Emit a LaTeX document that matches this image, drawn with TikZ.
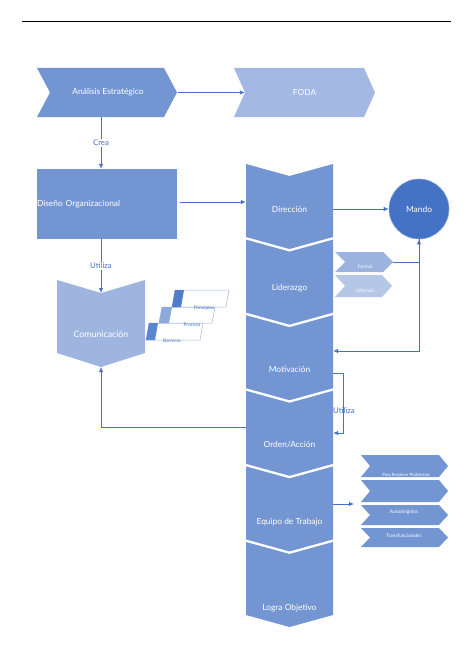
\documentclass[tikz,border=0pt]{standalone}
\usepackage{fontspec}
\setmainfont{Lato}
\usetikzlibrary{arrows.meta,calc}
\definecolor{colc}{HTML}{7396D3}
\definecolor{fodac}{HTML}{A3B8E3}
\definecolor{comc}{HTML}{A0B4E0}
\definecolor{mandoc}{HTML}{4472C4}
\definecolor{mandoedge}{HTML}{8FAADC}
\definecolor{arrc}{HTML}{4472C4}
\definecolor{formc}{HTML}{9DB3DF}
\definecolor{informc}{HTML}{B4C7E7}
\definecolor{parc}{HTML}{9DB3DF}
\definecolor{darka}{HTML}{5A85D0}
\definecolor{darkb}{HTML}{8EAADB}
\definecolor{darkc}{HTML}{4F7DCC}
\newcommand\mychevR[6]{\fill[#1] (#2,#3) -- (#4-#6,#3) -- (#4,{(#3+#5)/2}) -- (#4-#6,#5) -- (#2,#5) -- (#2+#6,{(#3+#5)/2}) -- cycle;}
\newcommand\mychevD[6]{\fill[#1] (#2,#4) -- ({(#2+#3)/2},#4+#6) -- (#3,#4) -- (#3,#5) -- ({(#2+#3)/2},#5+#6) -- (#2,#5) -- cycle;}
\newcommand\mypar[6]{% x y w h darkcolor darkwidth
  \filldraw[fill=white,draw=parc,line width=0.5pt] (#1,#2) -- (#1+#3,#2) -- (#1+#3-3,#2+#4) -- (#1-3,#2+#4) -- cycle;
  \fill[#5] (#1,#2) -- (#1+#6,#2) -- (#1+#6-3,#2+#4) -- (#1-3,#2+#4) -- cycle;}
\begin{document}
\begin{tikzpicture}[x=1pt,y=-1pt,
  arr/.style={draw=arrc,line width=0.9pt,-{Latex[length=5pt,width=4.5pt]}},
  lbl/.style={text=white,font=\fontsize{8.4}{10}\selectfont,inner sep=0pt},
  tiny/.style={text=white,font=\fontsize{4.8}{5.5}\selectfont,inner sep=0pt},
  bluetiny/.style={text=arrc,font=\fontsize{4.8}{5.5}\selectfont,inner sep=0pt},
  conn/.style={text=arrc,font=\fontsize{7.8}{9}\selectfont,inner sep=1pt,fill=white},
  colnode/.style={lbl,minimum width=87pt}]
\useasboundingbox (0,0) rectangle (474,669);
\fill[white] (0,0) rectangle (474,669);
\draw[black,line width=1pt] (22,22) -- (451,22);

% top chevrons
\mychevR{colc}{37}{68}{177}{117}{13}
\mychevR{fodac}{234}{68}{375}{117}{11}
\node[lbl,minimum width=140pt,minimum height=49pt] (ana) at (108,92.5) {Análisis Estratégico};
\node[lbl,minimum width=141pt,minimum height=49pt] (foda) at (304.5,92.5) {FODA};

% Diseño
\fill[colc] (37,169) rectangle (177,239);
\node[lbl,text width=140pt,align=left,minimum height=70pt] (dis) at (107,204) {Diseño Organizacional};

% Comunicación
\fill[comc] (57,280) -- (101,293) -- (145,280) -- (145,353) -- (101,367) -- (57,353) -- cycle;
\node[lbl,font=\fontsize{8.8}{10}\selectfont,minimum width=88pt] (com) at (101,334) {Comunicación};
\coordinate (comtop) at (101,293);
\coordinate (combot) at (101,367);

% parallelograms
\mypar{149}{323}{54}{17}{darka}{9}
\mypar{162}{307}{53}{16}{darkb}{10}
\mypar{175}{290}{54}{17}{darkc}{9}
\node[bluetiny] (princ) at (204,308) {Principios};
\node[bluetiny] (proc) at (192,324.5) {Proceso};
\node[bluetiny] (barr) at (172,341) {Barreras};

% column
\foreach \i in {0,...,5}{
  \pgfmathsetmacro\yt{164+75.6*\i}
  \mychevD{colc}{246}{333}{\yt}{\yt+73}{12}
}
\node[colnode] (dir) at (289.5,209) {Dirección};
\node[colnode] (lid) at (289.5,288) {Liderazgo};
\node[colnode] (mot) at (289.5,369) {Motivación};
\node[colnode] (ord) at (289.5,445) {Orden/Acción};
\node[colnode] (eq) at (289.5,522) {Equipo de Trabajo};
\node[colnode] (logra) at (289.5,608) {Logra Objetivo};

% Mando
\node[circle,minimum size=60pt,fill=mandoc,draw=mandoedge,line width=0.6pt,text=white,font=\fontsize{8.4}{10}\selectfont,inner sep=0pt] (mando) at (419,209) {Mando};

% Formal / Informal
\mychevR{formc}{335}{252}{393}{272}{10}
\mychevR{informc}{335}{275}{392}{297}{10}
\node[tiny] (formal) at (365,267) {Formal};
\node[tiny] (informal) at (365,291) {Informal};
\coordinate (formtip) at (393,262);

% team chevrons
\mychevR{colc}{361}{455}{448}{477}{9}
\mychevR{colc}{361}{480}{448}{502}{9}
\mychevR{colc}{361}{505}{448}{525}{9}
\mychevR{colc}{361}{528}{448}{547}{9}
\node[tiny,font=\fontsize{4.4}{5}\selectfont] (team1) at (406,474.5) {Para Resolver Problemas};
\node[tiny] (team3) at (404,512) {Autodirigidos};
\node[tiny] (team4) at (404,536) {Transfuncionales};
\coordinate (teamin) at (354,504);

% connectors
\draw[arr] (ana.east) -- ([xshift=11pt]foda.west);
\draw[arr] ([xshift=-7pt]ana.south) -- ([xshift=-6pt]dis.north) node[conn,midway] (crea) {Crea};
\draw[arr] ([xshift=3pt,yshift=2pt]dis.east) -- ([yshift=2pt]dis.east -| dir.west);
\draw[arr] (dis.south -| comtop) -- (comtop) node[conn,pos=0.5] (util1) {Utiliza};
\draw[arr] ([yshift=18pt]ord.west) -| (combot);
\draw[arr] (dir.east) -- (mando.west);
\draw[arr] (formtip) -| (mando.south);
\draw[arr] (mando.south) |- ([yshift=18pt]mot.east);
\draw[arr] ([yshift=-4pt]mot.east) -- ++(10,0) |- ([yshift=12pt]ord.east);
\node[text=arrc,font=\fontsize{7.8}{9}\selectfont,inner sep=0pt] (util2) at (344,411) {Utiliza};
\draw[arr] ([yshift=18pt]eq.east) -- (teamin);
\end{tikzpicture}
\end{document}
